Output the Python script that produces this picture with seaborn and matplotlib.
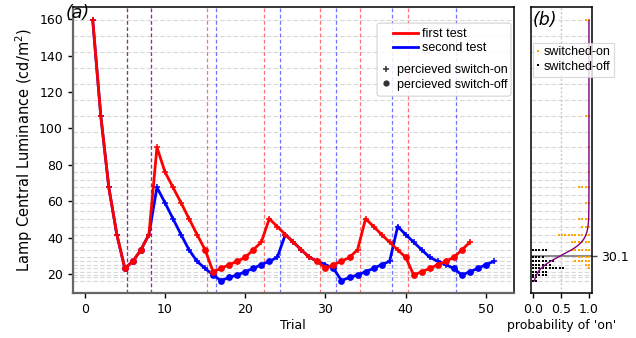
import numpy as np
import pandas as pd
import matplotlib
matplotlib.use("Agg")
import matplotlib.pyplot as plt
from matplotlib.lines import Line2D
from matplotlib.patches import FancyBboxPatch
import seaborn as sns

plt.rcParams['font.family'] = ['DejaVu Sans']
plt.rcParams['font.size'] = 9

# ---------------- data ----------------
levels = [159.3, 150.8, 142.0, 133.2, 124.4, 115.6, 106.9, 98.0, 89.6, 80.8,
          76.1, 71.9, 67.6, 63.2, 59.2, 54.9, 50.4, 46.1, 41.7, 37.5, 33.3,
          29.2, 27.0, 25.2, 23.1, 21.3, 19.5, 18.2, 16.4]

first_lum = [159.3, 106.9, 67.6, 41.7, 23.1, 27.0, 33.3, 41.7, 89.6, 76.1,
             67.6, 59.2, 50.4, 41.7, 33.3, 21.3, 23.1, 25.2, 27.0, 29.2,
             33.3, 37.5, 50.4, 46.1, 41.7, 37.5, 33.3, 29.2, 27.0, 23.1,
             25.2, 27.0, 29.2, 33.3, 50.4, 46.1, 41.7, 37.5, 33.3, 29.2,
             19.5, 21.3, 23.1, 25.2, 27.0, 29.2, 33.3, 37.5]
first_resp = "++++ooo+++++++ooooooo+++++++ooooo++++++oooooooo+"

second_lum = [159.3, 106.9, 67.6, 41.7, 23.1, 27.0, 33.3, 41.7,
              67.6, 59.2, 50.4, 41.7, 33.3, 27.0, 23.1,
              19.5, 16.4, 18.2, 19.5, 21.3, 23.1, 25.2, 27.0,
              29.2, 41.7, 37.5, 33.3, 29.2, 27.0, 25.2,
              23.1, 16.4, 18.2, 19.5, 21.3, 23.1, 25.2,
              27.0, 46.1, 41.7, 37.5, 33.3, 29.2, 27.0, 25.2,
              23.1, 19.5, 21.3, 23.1, 25.2,
              27.0]
second_resp = "++++ooo++++++++oooooooo+++++++ooooooo++++++++ooooo+"

first_switches = [5.3, 8.3, 15.3, 22.3, 29.3, 34.3, 40.3]
second_switches = [5.3, 8.3, 16.3, 24.3, 31.3, 38.3, 46.3]

threshold = 30.1
slope = 4.0
dot_step = 0.06

xticks_main = [0, 10, 20, 30, 40, 50]
yticks_main = [20, 40, 60, 80, 100, 120, 140, 160]
xticks_b = [0.0, 0.5, 1.0]

# ---------------- frames ----------------
def make_df(lum, resp):
    return pd.DataFrame({"trial": np.arange(1, len(lum) + 1),
                         "lum": lum,
                         "on": [r == "+" for r in resp]})

df1 = make_df(first_lum, first_resp)
df2 = make_df(second_lum, second_resp)
both = pd.concat([df1, df2], ignore_index=True)

rows_on, rows_off = [], []
for lv, grp in both.groupby("lum"):
    n_on = int(grp["on"].sum())
    n_off = int((~grp["on"]).sum())
    for k in range(n_on):
        rows_on.append((1.0 - k * dot_step, lv))
    for k in range(n_off):
        rows_off.append((k * dot_step, lv))
dots_on = pd.DataFrame(rows_on, columns=["p", "lum"])
dots_off = pd.DataFrame(rows_off, columns=["p", "lum"])

lum_curve = np.linspace(min(levels), max(levels), 600)
p_curve = 1.0 / (1.0 + np.exp(-(lum_curve - threshold) / slope))
curve = pd.DataFrame({"p": p_curve, "lum": lum_curve})

# ---------------- figure ----------------
fig = plt.figure(figsize=(6.36, 3.38), dpi=100)
ax = fig.add_axes([0.1143, 0.132, 0.6939, 0.847])
ax2 = fig.add_axes([0.8344, 0.132, 0.0959, 0.847])

ylim = (9.4, 166.6)
grid_kw = dict(color="#d8d8d8", lw=0.8, ls=(0, (4, 2)), zorder=0)
for lv in levels:
    ax.axhline(lv, **grid_kw)
    ax2.axhline(lv, **grid_kw)

for xs in first_switches:
    ax.axvline(xs, color="red", alpha=0.55, lw=0.9, ls=(0, (3, 2)), zorder=1)
for xs in second_switches:
    ax.axvline(xs, color="blue", alpha=0.55, lw=0.9, ls=(0, (3, 2)), zorder=1)

for df, col, z in [(df2, "blue", 2), (df1, "red", 3)]:
    sns.lineplot(data=df, x="trial", y="lum", color=col, lw=2, sort=False,
                 estimator=None, ax=ax, zorder=z)
    sns.scatterplot(data=df[df["on"]], x="trial", y="lum", marker="+",
                    color=col, s=22, linewidth=1.1, ax=ax, zorder=z + 0.5)
    sns.scatterplot(data=df[~df["on"]], x="trial", y="lum", marker="o",
                    color=col, edgecolor=col, s=24, linewidth=0, ax=ax,
                    zorder=z + 0.5)

ax.set_xlim(-1.5, 53.5)
ax.set_ylim(*ylim)
ax.set_xticks(xticks_main)
ax.set_yticks(yticks_main)
ax.set_xlabel("Trial", fontsize=9, labelpad=2)
ax.set_ylabel("Lamp Central Luminance (cd/m$^2$)", fontsize=10.5, labelpad=3)
ax.tick_params(axis="both", labelsize=9, length=3.5, width=1, direction="out")
for side in ["left", "bottom"]:
    ax.spines[side].set_color("#666666")
    ax.spines[side].set_linewidth(1.6)
for side in ["top", "right"]:
    ax.spines[side].set_color("black")
    ax.spines[side].set_linewidth(1.1)
ax.text(-0.016, 1.01, "(a)", transform=ax.transAxes, ha="left", va="top",
        fontsize=12.5, fontstyle="italic", zorder=10)

# legend box and legends
legfont = {"family": "Liberation Sans", "size": 9}
box = FancyBboxPatch((0.6896, 0.689), 0.3036, 0.255,
                     boxstyle="round,pad=0,rounding_size=0.008",
                     transform=ax.transAxes, facecolor="white",
                     edgecolor="#cccccc", lw=0.8, alpha=0.85, zorder=8)
ax.add_patch(box)
h1 = [Line2D([], [], color="red", lw=2), Line2D([], [], color="blue", lw=2)]
leg1 = ax.legend(h1, ["first test", "second test"], loc="upper left",
                 bbox_to_anchor=(0.7258, 0.927), frameon=False, prop=legfont,
                 borderpad=0, borderaxespad=0, handlelength=2.0,
                 handletextpad=0.35, labelspacing=0.2)
leg1.set_zorder(9)
ax.add_artist(leg1)
h2 = [Line2D([], [], color="#333333", marker="+", ms=5, mew=1.1, ls="none"),
      Line2D([], [], color="#333333", marker="o", ms=4.5, mew=0, ls="none")]
leg2 = ax.legend(h2, ["percieved switch-on", "percieved switch-off"],
                 loc="upper left", bbox_to_anchor=(0.6986, 0.800),
                 frameon=False, prop=legfont, borderpad=0, borderaxespad=0,
                 handlelength=0.8, handletextpad=0.45, labelspacing=0.2)
leg2.set_zorder(9)

# ---------------- panel (b) ----------------
ax2.axvline(0.5, color="#c8c8c8", lw=1, ls=(0, (1.5, 1.5)), zorder=0)
sns.scatterplot(data=dots_on, x="p", y="lum", marker="s", color="orange",
                s=3.0, linewidth=0, ax=ax2, zorder=3)
sns.scatterplot(data=dots_off, x="p", y="lum", marker="s", color="black",
                s=3.0, linewidth=0, ax=ax2, zorder=3)
sns.lineplot(data=curve, x="p", y="lum", color="purple", lw=1, sort=False,
             estimator=None, ax=ax2, zorder=4)
ax2.axhline(threshold, color="#808080", lw=1.3, zorder=2)

ax2.set_xlim(-0.036, 1.048)
ax2.set_ylim(*ylim)
ax2.set_xticks(xticks_b)
ax2.set_xticklabels([f"{v:.1f}" for v in xticks_b])
ax2.yaxis.set_ticks_position("right")
ax2.set_yticks([threshold])
ax2.set_yticklabels([f"{threshold:.1f}"])
ax2.tick_params(axis="both", labelsize=9, length=3.5, width=1)
ax2.tick_params(axis="y", colors="#444444", labelcolor="black")
ax2.set_xlabel("probability of 'on'", fontsize=9, labelpad=2)
ax2.set_ylabel("")
for s in ax2.spines.values():
    s.set_color("black")
    s.set_linewidth(1.1)
ax2.text(0.03, 0.985, "(b)", transform=ax2.transAxes, ha="left", va="top",
         fontsize=12.5, fontstyle="italic", zorder=10)
hb = [Line2D([], [], color="orange", marker="s", ms=2, mew=0, ls="none"),
      Line2D([], [], color="black", marker="s", ms=2, mew=0, ls="none")]
legb = ax2.legend(hb, ["switched-on", "switched-off"], loc="upper left",
                  bbox_to_anchor=(0.035, 0.876), prop=legfont, frameon=True,
                  borderpad=0.3, borderaxespad=0, handlelength=0.3,
                  handletextpad=0.25, labelspacing=0.2, fancybox=False)
legb.get_frame().set_edgecolor("#d0d0d0")
legb.get_frame().set_linewidth(0.8)
legb.set_zorder(9)

fig.savefig("out.png", dpi=100)
